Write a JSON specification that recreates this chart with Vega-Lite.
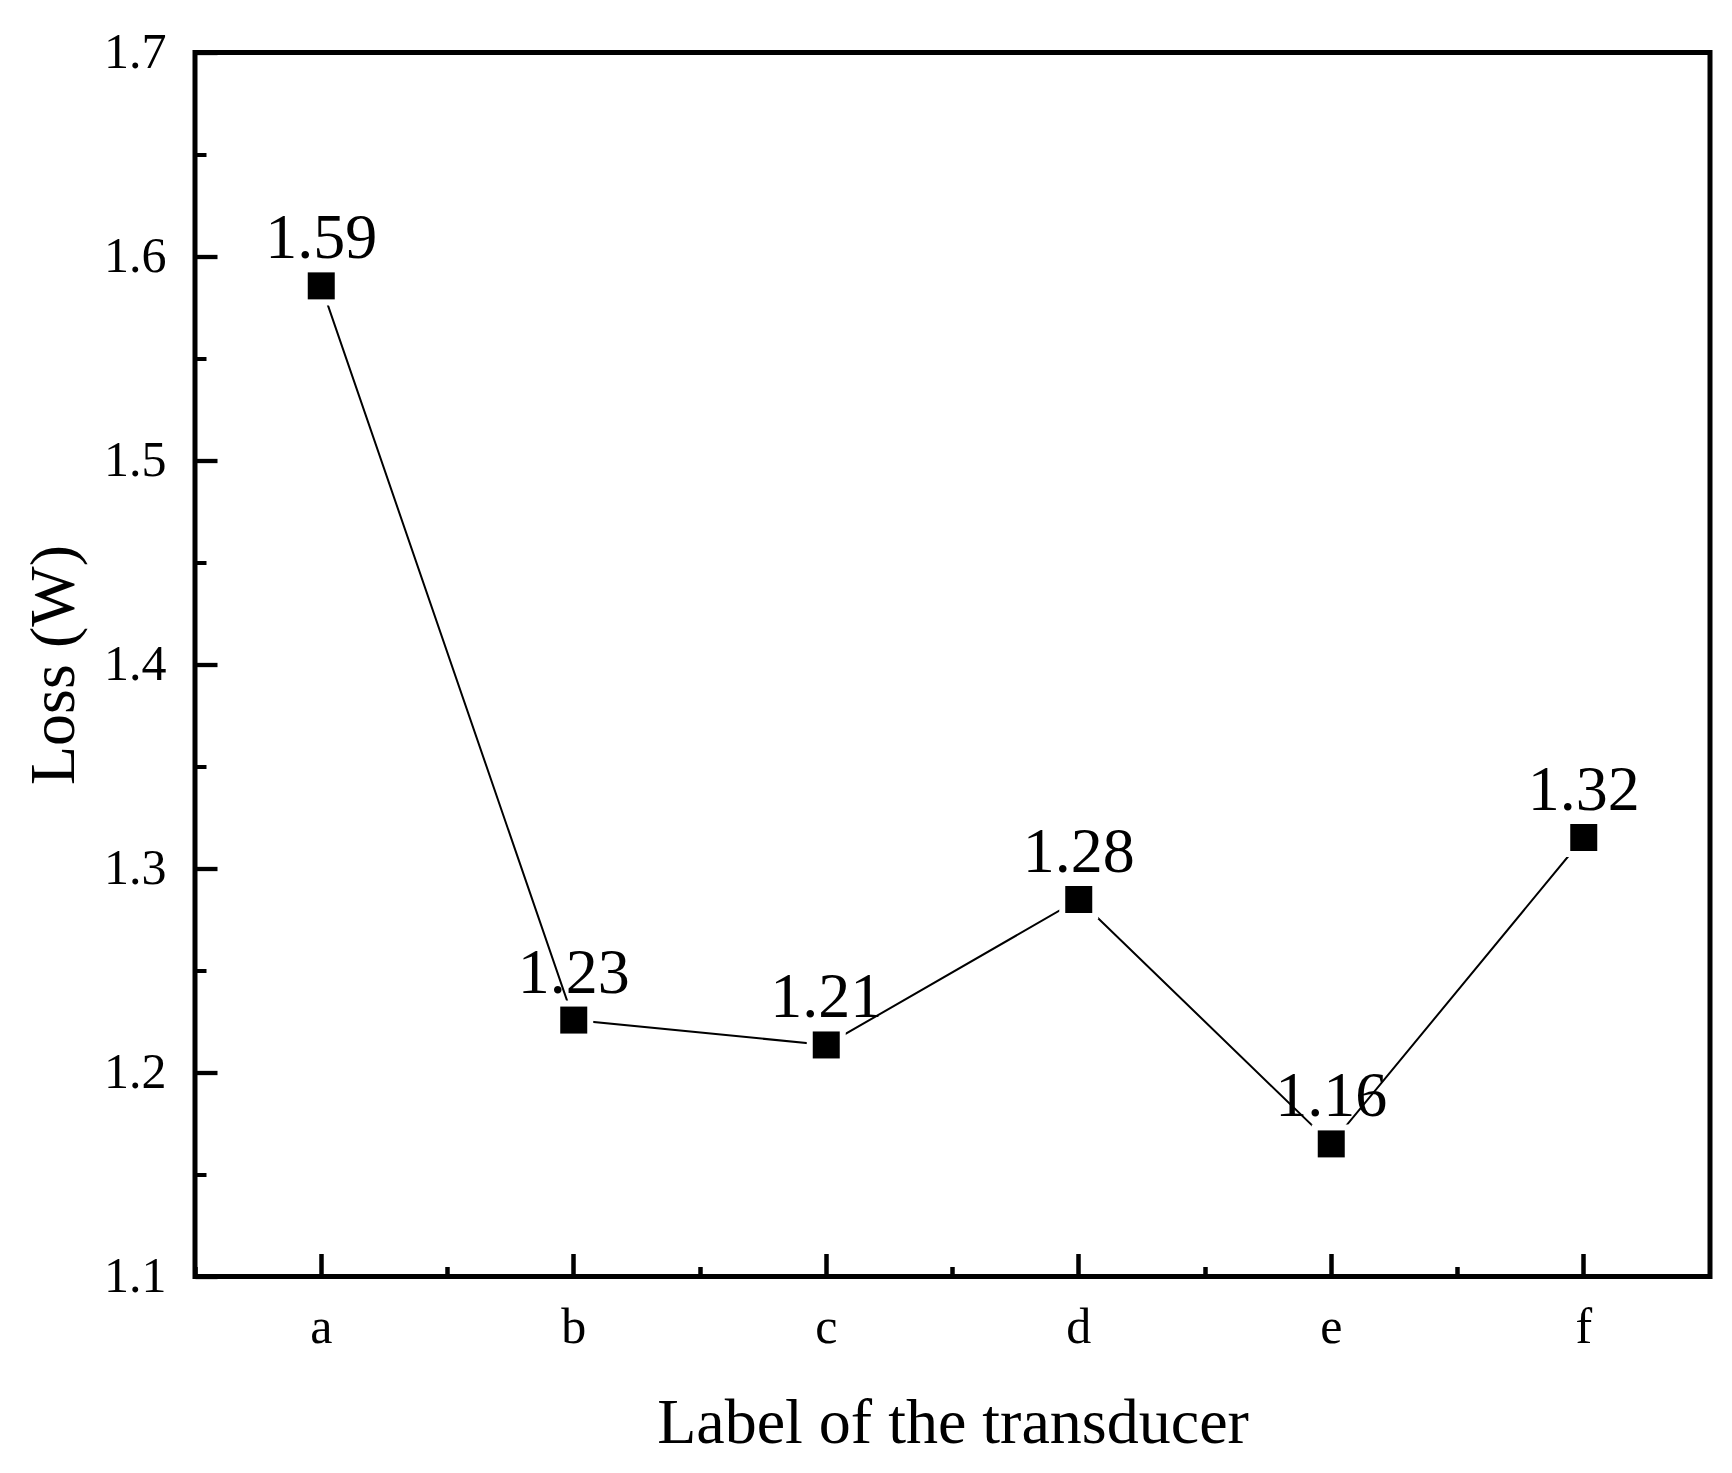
{
  "$schema": "https://vega.github.io/schema/vega-lite/v6.json",
  "width": 1515,
  "height": 1224,
  "autosize": {"type": "none"},
  "padding": {"left": 195, "top": 52.5, "right": 22, "bottom": 196.5},
  "background": "white",
  "config": {
    "view": {"stroke": "black", "strokeWidth": 5},
    "font": "Liberation Serif",
    "axis": {"grid": false, "domain": false, "tickColor": "black", "labelColor": "black", "titleColor": "black", "labelFont": "Liberation Serif", "titleFont": "Liberation Serif", "titleFontWeight": "normal"}
  },
  "data": {
    "values": [
      {"label": "a", "loss": 1.5856, "text": "1.59"},
      {"label": "b", "loss": 1.2257, "text": "1.23"},
      {"label": "c", "loss": 1.2135, "text": "1.21"},
      {"label": "d", "loss": 1.2848, "text": "1.28"},
      {"label": "e", "loss": 1.165, "text": "1.16"},
      {"label": "f", "loss": 1.3152, "text": "1.32"}
    ]
  },
  "resolve": {"axis": {"x": "independent", "y": "independent"}},
  "layer": [
    {
      "mark": {"type": "line", "color": "black", "strokeWidth": 2},
      "encoding": {
        "x": {"field": "label", "type": "nominal", "sort": null,
              "scale": {"type": "band", "paddingInner": 0, "paddingOuter": 0},
              "axis": {"orient": "bottom", "bandPosition": 0, "labels": false, "title": null, "tickSize": -10, "tickWidth": 4.5}},
        "y": {"field": "loss", "type": "quantitative",
              "scale": {"domain": [1.1, 1.7], "nice": false, "zero": false},
              "axis": {"orient": "left", "values": [1.15, 1.25, 1.35, 1.45, 1.55, 1.65], "labels": false, "title": null, "tickSize": -11, "tickWidth": 4}}
      }
    },
    {
      "mark": {"type": "point", "shape": "square", "filled": true, "color": "white", "opacity": 1, "size": 1521},
      "encoding": {
        "x": {"field": "label", "type": "nominal", "sort": null, "axis": null},
        "y": {"field": "loss", "type": "quantitative", "axis": null}
      }
    },
    {
      "mark": {"type": "point", "shape": "square", "filled": true, "color": "black", "opacity": 1, "size": 729},
      "encoding": {
        "x": {"field": "label", "type": "nominal", "sort": null,
              "axis": {"orient": "bottom", "title": "Label of the transducer", "labelAngle": 0, "labelFontSize": 50, "titleFontSize": 64, "tickSize": -23, "tickWidth": 4.5, "labelPadding": 49, "titlePadding": 39}},
        "y": {"field": "loss", "type": "quantitative",
              "axis": {"orient": "left", "title": "Loss (W)", "values": [1.1, 1.2, 1.3, 1.4, 1.5, 1.6, 1.7], "format": ".1f", "labelFontSize": 50, "titleFontSize": 64, "tickSize": -22, "tickWidth": 4.3, "labelPadding": 51, "titlePadding": 17}}
      }
    },
    {
      "mark": {"type": "text", "fontSize": 64, "align": "center", "baseline": "alphabetic", "dy": -27.5, "color": "black", "font": "Liberation Serif"},
      "encoding": {
        "x": {"field": "label", "type": "nominal", "sort": null, "axis": null},
        "y": {"field": "loss", "type": "quantitative", "axis": null},
        "text": {"field": "text"}
      }
    }
  ]
}
